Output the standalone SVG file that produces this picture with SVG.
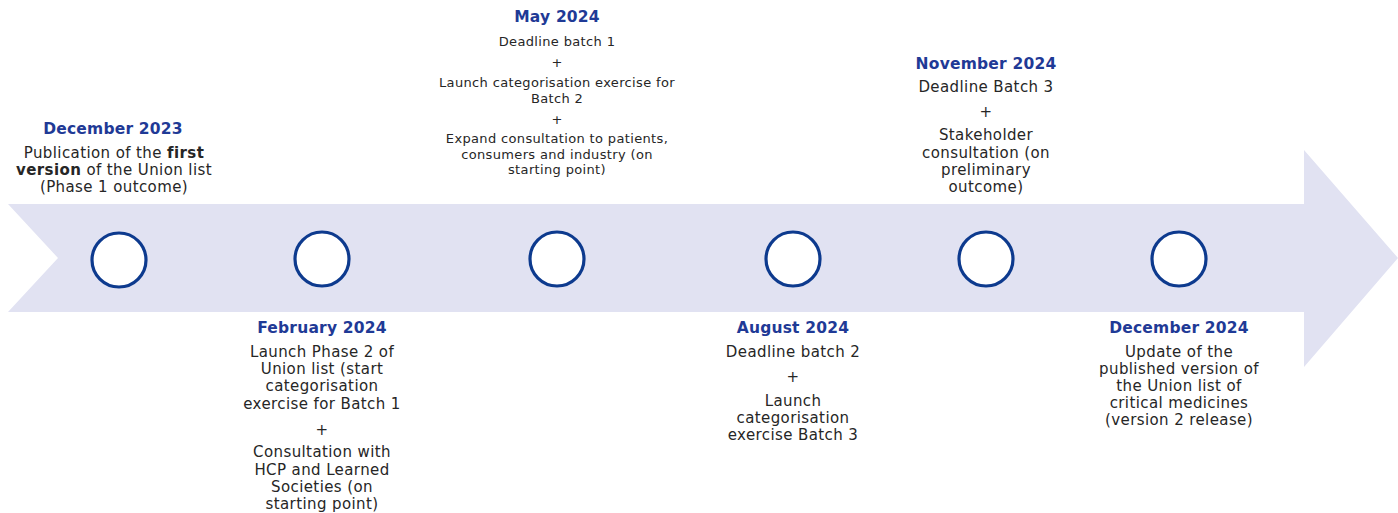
<svg xmlns="http://www.w3.org/2000/svg" width="1398" height="513" viewBox="0 0 1398 513">
  <style>
    text { font-family: "DejaVu Sans", Verdana, sans-serif; text-anchor: middle; fill: #262626; font-size: 15px; letter-spacing: 0.4px; }
    .date { font-weight: bold; fill: #1f3a96; font-size: 15.5px; letter-spacing: 0.2px; }
    .small { font-size: 13px; letter-spacing: 0.35px; }
    .node { fill: #ffffff; stroke: #0d3a8e; stroke-width: 3.2; }
    .b { font-weight: bold; }
  </style>

  <!-- timeline band with notched tail and arrow head -->
  <g id="timeline">
    <path d="M8,204 L1304,204 L1304,150 L1398,258 L1304,367 L1304,312 L8,312 L58,258 Z" fill="#e1e2f2"/>
  </g>

  <!-- milestone markers -->
  <g id="markers">
    <circle class="node" cx="119" cy="260" r="27"/>
    <circle class="node" cx="322" cy="259" r="27"/>
    <circle class="node" cx="557" cy="259" r="27"/>
    <circle class="node" cx="793" cy="259" r="27"/>
    <circle class="node" cx="986" cy="259" r="27"/>
    <circle class="node" cx="1179" cy="259" r="27"/>
  </g>

  <g id="dec-2023">
    <text class="date" x="113" y="134">December 2023</text>
    <text x="114" y="158">Publication of the <tspan class="b">first</tspan></text>
    <text x="114" y="175"><tspan class="b">version</tspan> of the Union list</text>
    <text x="114" y="192">(Phase 1 outcome)</text>
  </g>

  <g id="feb-2024">
    <text class="date" x="322" y="333">February 2024</text>
    <text x="322" y="357">Launch Phase 2 of</text>
    <text x="322" y="374">Union list (start</text>
    <text x="322" y="391">categorisation</text>
    <text x="322" y="409">exercise for Batch 1</text>
    <text x="322" y="435">+</text>
    <text x="322" y="457">Consultation with</text>
    <text x="322" y="475">HCP and Learned</text>
    <text x="322" y="492">Societies (on</text>
    <text x="322" y="509">starting point)</text>
  </g>

  <g id="may-2024">
    <text class="date" x="557" y="22">May 2024</text>
    <text class="small" x="557" y="46">Deadline batch 1</text>
    <text class="small" x="557" y="67">+</text>
    <text class="small" x="557" y="87">Launch categorisation exercise for</text>
    <text class="small" x="557" y="103">Batch 2</text>
    <text class="small" x="557" y="124">+</text>
    <text class="small" x="557" y="143">Expand consultation to patients,</text>
    <text class="small" x="557" y="159">consumers and industry (on</text>
    <text class="small" x="557" y="174">starting point)</text>
  </g>

  <g id="aug-2024">
    <text class="date" x="793" y="333">August 2024</text>
    <text x="793" y="357">Deadline batch 2</text>
    <text x="793" y="382">+</text>
    <text x="793" y="406">Launch</text>
    <text x="793" y="423">categorisation</text>
    <text x="793" y="440">exercise Batch 3</text>
  </g>

  <g id="nov-2024">
    <text class="date" x="986" y="69">November 2024</text>
    <text x="986" y="92">Deadline Batch 3</text>
    <text x="986" y="117">+</text>
    <text x="986" y="140">Stakeholder</text>
    <text x="986" y="158">consultation (on</text>
    <text x="986" y="175">preliminary</text>
    <text x="986" y="192">outcome)</text>
  </g>

  <g id="dec-2024">
    <text class="date" x="1179" y="333">December 2024</text>
    <text x="1179" y="357">Update of the</text>
    <text x="1179" y="374">published version of</text>
    <text x="1179" y="391">the Union list of</text>
    <text x="1179" y="408">critical medicines</text>
    <text x="1179" y="425">(version 2 release)</text>
  </g>
</svg>
